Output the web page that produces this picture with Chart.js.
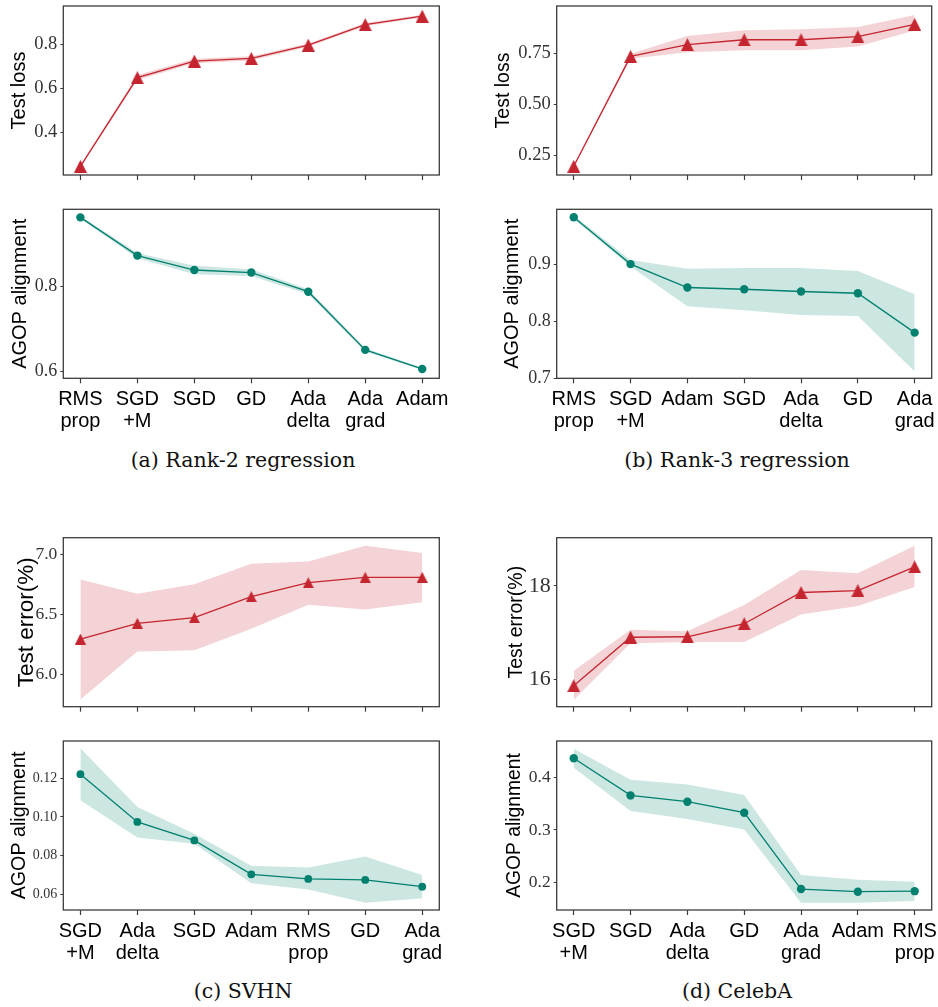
<!DOCTYPE html>
<html><head><meta charset="utf-8">
<script src="https://cdn.jsdelivr.net/npm/chart.js@4.4.1/dist/chart.umd.min.js"></script>
<style>
html,body{margin:0;padding:0;background:#fff;}
body{width:938px;height:1007px;position:relative;overflow:hidden;}
canvas{position:absolute;}
.cap{position:absolute;font-family:'DejaVu Serif',serif;font-size:20.5px;color:#111;white-space:nowrap;transform:translate(-50%,-50%);}
</style></head><body>
<div class="cap" style="left:243px;top:460px">(a) Rank-2 regression</div>
<div class="cap" style="left:737px;top:460px">(b) Rank-3 regression</div>
<div class="cap" style="left:243px;top:991px">(c) SVHN</div>
<div class="cap" style="left:737px;top:991px">(d) CelebA</div>
<script>
// ---------- data ----------
const catsA = [['RMS','prop'],['SGD','+M'],'SGD','GD',['Ada','delta'],['Ada','grad'],'Adam'];
const catsB = [['RMS','prop'],['SGD','+M'],'Adam','SGD',['Ada','delta'],'GD',['Ada','grad']];
const catsC = [['SGD','+M'],['Ada','delta'],'SGD','Adam',['RMS','prop'],'GD',['Ada','grad']];
const catsD = [['SGD','+M'],'SGD',['Ada','delta'],'GD',['Ada','grad'],'Adam',['RMS','prop']];

const lossA      = [0.247, 0.648, 0.723, 0.735, 0.795, 0.888, 0.926];
const lossAUpper = [0.252, 0.660, 0.734, 0.745, 0.802, 0.895, 0.932];
const lossALower = [0.242, 0.638, 0.713, 0.726, 0.788, 0.881, 0.920];
const alignA      = [0.963, 0.873, 0.839, 0.833, 0.788, 0.651, 0.606];
const alignAUpper = [0.966, 0.879, 0.849, 0.841, 0.794, 0.655, 0.609];
const alignALower = [0.960, 0.867, 0.829, 0.825, 0.782, 0.647, 0.603];

const lossB      = [0.195, 0.735, 0.793, 0.817, 0.817, 0.832, 0.893];
const lossBUpper = [0.200, 0.748, 0.836, 0.864, 0.869, 0.880, 0.939];
const lossBLower = [0.190, 0.724, 0.755, 0.766, 0.766, 0.784, 0.862];
const alignB      = [0.982, 0.900, 0.859, 0.856, 0.852, 0.849, 0.780];
const alignBUpper = [0.985, 0.907, 0.892, 0.893, 0.893, 0.888, 0.847];
const alignBLower = [0.979, 0.896, 0.826, 0.819, 0.811, 0.809, 0.712];

const errC      = [6.294, 6.425, 6.472, 6.647, 6.763, 6.808, 6.808];
const errCUpper = [6.79, 6.67, 6.75, 6.92, 6.94, 7.07, 7.01];
const errCLower = [5.79, 6.19, 6.20, 6.38, 6.58, 6.54, 6.60];
const alignC      = [0.1222, 0.0974, 0.0878, 0.0702, 0.0678, 0.0673, 0.0638];
const alignCUpper = [0.1356, 0.1052, 0.0913, 0.0746, 0.0738, 0.0795, 0.0699];
const alignCLower = [0.1086, 0.0893, 0.0861, 0.0656, 0.0624, 0.0555, 0.0578];

const errD      = [15.86, 16.90, 16.91, 17.19, 17.86, 17.90, 18.41];
const errDUpper = [16.18, 17.06, 17.03, 17.59, 18.34, 18.27, 18.86];
const errDLower = [15.56, 16.77, 16.80, 16.80, 17.39, 17.57, 17.98];
const alignD      = [0.437, 0.366, 0.354, 0.333, 0.187, 0.182, 0.183];
const alignDUpper = [0.455, 0.396, 0.387, 0.367, 0.214, 0.205, 0.201];
const alignDLower = [0.419, 0.336, 0.321, 0.301, 0.161, 0.161, 0.164];

// tick values and labels
const ticksLossA = [0.4, 0.6, 0.8],        tickLabelsLossA = ['0.4','0.6','0.8'];
const ticksAlignA = [0.6, 0.8],            tickLabelsAlignA = ['0.6','0.8'];
const ticksLossB = [0.25, 0.5, 0.75],      tickLabelsLossB = ['0.25','0.50','0.75'];
const ticksAlignB = [0.7, 0.8, 0.9],       tickLabelsAlignB = ['0.7','0.8','0.9'];
const ticksErrC = [6.0, 6.5, 7.0],         tickLabelsErrC = ['6.0','6.5','7.0'];
const ticksAlignC = [0.06, 0.08, 0.10, 0.12], tickLabelsAlignC = ['0.06','0.08','0.10','0.12'];
const ticksErrD = [16, 18],                tickLabelsErrD = ['16','18'];
const ticksAlignD = [0.2, 0.3, 0.4],       tickLabelsAlignD = ['0.2','0.3','0.4'];

// ---------- style ----------
const SANS = "'Liberation Sans', Arial, Helvetica, sans-serif";
const SERIF = "'Liberation Serif', 'Times New Roman', serif";
const SPINE = '#3c3c3c';
const RED = '#C5252F', RED_BAND = 'rgba(197,37,47,0.2)';
const TEAL = '#00806F', TEAL_BAND = 'rgba(0,128,111,0.2)';

function triangle(size, color) {
  const c = document.createElement('canvas');
  c.width = size; c.height = size;
  const g = c.getContext('2d');
  g.fillStyle = color;
  g.beginPath();
  g.moveTo(size / 2, 0);
  g.lineTo(size, size);
  g.lineTo(0, size);
  g.closePath();
  g.fill();
  return c;
}

const boxPlugin = {
  id: 'box',
  afterDatasetsDraw(chart) {
    const {ctx, chartArea: a} = chart;
    ctx.save();
    ctx.strokeStyle = SPINE; ctx.lineWidth = 1.3;
    ctx.strokeRect(a.left, a.top, a.right - a.left, a.bottom - a.top);
    ctx.restore();
  }
};

function panel(p) {
  const cv = document.createElement('canvas');
  cv.width = p.w; cv.height = p.h;
  cv.style.left = p.x + 'px'; cv.style.top = p.y + 'px';
  document.body.appendChild(cv);
  const pts = arr => arr.map((v, i) => ({x: i, y: v}));
  new Chart(cv, {
    type: 'line',
    data: {datasets: [
      {data: pts(p.values), borderColor: p.color, borderWidth: 1.3, pointStyle: p.marker, pointRadius: p.r,
       pointBackgroundColor: p.color, pointBorderColor: p.color, pointBorderWidth: 0, fill: false, clip: false, order: 0},
      {data: pts(p.upper), borderWidth: 0, pointRadius: 0, fill: '+1', backgroundColor: p.band, order: 1},
      {data: pts(p.lower), borderWidth: 0, pointRadius: 0, fill: false, order: 2}
    ]},
    options: {
      responsive: false, animation: false, devicePixelRatio: 1,
      layout: {padding: {left: 0, top: p.plotTop - p.y, right: p.x + p.w - p.plotRight, bottom: 0}},
      plugins: {legend: {display: false}, tooltip: {enabled: false}},
      scales: {
        x: {
          type: 'linear', min: -0.3, max: 6.3, bounds: 'data',
          afterBuildTicks: s => { s.ticks = p.cats.map((c, i) => ({value: i})); },
          afterFit: s => { s.height = p.y + p.h - p.plotBottom; s.paddingLeft = 0; s.paddingRight = 0; },
          grid: {display: true, drawOnChartArea: false, drawTicks: true, tickLength: 5, tickWidth: 1.2, tickColor: SPINE},
          border: {display: false},
          ticks: {autoSkip: false, maxRotation: 0, minRotation: 0, padding: 5, color: '#000',
                  font: {family: SANS, size: 20, lineHeight: 1.1},
                  callback: (v, i) => p.showLabels ? p.cats[i] : ''}
        },
        y: {
          min: p.yMin, max: p.yMax, bounds: 'data',
          afterBuildTicks: s => { s.ticks = p.yTicks.map(v => ({value: v})); },
          afterFit: s => { s.width = p.plotLeft - p.x; s.paddingTop = 0; s.paddingBottom = 0; },
          grid: {display: true, drawOnChartArea: false, drawTicks: true, tickLength: 3, tickWidth: 1, tickColor: SPINE},
          border: {display: false},
          ticks: {padding: 3, color: '#333', font: {family: SERIF, size: p.tickSize}, callback: (v, i) => p.yTickLabels[i]},
          title: {display: true, text: p.yTitle, color: '#000', font: {family: SANS, size: p.titleSize, lineHeight: 1},
                  padding: {top: p.titleX - p.titleSize / 2, bottom: 0}}
        }
      }
    },
    plugins: [boxPlugin]
  });
}

const triRed = triangle(13, RED), triRedS = triangle(11, RED);

// column / row geometry
const L = {x: 0, w: 470, plotLeft: 63.3, plotRight: 439.3};
const R = {x: 470, w: 468, plotLeft: 556.7, plotRight: 931.7};
const row1 = {y: 0, h: 190, plotTop: 5, plotBottom: 175};
const row2 = {y: 190, h: 250, plotTop: 209.3, plotBottom: 378.3};
const row3 = {y: 520, h: 200, plotTop: 537.7, plotBottom: 706.7};
const row4 = {y: 720, h: 250, plotTop: 741, plotBottom: 910};

panel({...L, ...row1, cats: catsA, showLabels: false, values: lossA, upper: lossAUpper, lower: lossALower,
  yMin: 0.208, yMax: 0.972, yTicks: ticksLossA, yTickLabels: tickLabelsLossA, yTitle: 'Test loss', titleX: 19, titleSize: 20,
  tickSize: 18.5, color: RED, band: RED_BAND, marker: triRed, r: 6});
panel({...L, ...row2, cats: catsA, showLabels: true, values: alignA, upper: alignAUpper, lower: alignALower,
  yMin: 0.584, yMax: 0.982, yTicks: ticksAlignA, yTickLabels: tickLabelsAlignA, yTitle: 'AGOP alignment', titleX: 20, titleSize: 20,
  tickSize: 18, color: TEAL, band: TEAL_BAND, marker: 'circle', r: 4.2});
panel({...R, ...row1, cats: catsB, showLabels: false, values: lossB, upper: lossBUpper, lower: lossBLower,
  yMin: 0.152, yMax: 0.983, yTicks: ticksLossB, yTickLabels: tickLabelsLossB, yTitle: 'Test loss', titleX: 34, titleSize: 19.5,
  tickSize: 18.5, color: RED, band: RED_BAND, marker: triRed, r: 6});
panel({...R, ...row2, cats: catsB, showLabels: true, values: alignB, upper: alignBUpper, lower: alignBLower,
  yMin: 0.70, yMax: 0.996, yTicks: ticksAlignB, yTickLabels: tickLabelsAlignB, yTitle: 'AGOP alignment', titleX: 42.5, titleSize: 20,
  tickSize: 18, color: TEAL, band: TEAL_BAND, marker: 'circle', r: 4.2});
panel({...L, ...row3, cats: catsC, showLabels: false, values: errC, upper: errCUpper, lower: errCLower,
  yMin: 5.73, yMax: 7.138, yTicks: ticksErrC, yTickLabels: tickLabelsErrC, yTitle: 'Test error(%)', titleX: 26.7, titleSize: 22.5,
  tickSize: 17.5, color: RED, band: RED_BAND, marker: triRedS, r: 6});
panel({...L, ...row4, cats: catsC, showLabels: true, values: alignC, upper: alignCUpper, lower: alignCLower,
  yMin: 0.0517, yMax: 0.1394, yTicks: ticksAlignC, yTickLabels: tickLabelsAlignC, yTitle: 'AGOP alignment', titleX: 19.2, titleSize: 19.7,
  tickSize: 14, color: TEAL, band: TEAL_BAND, marker: 'circle', r: 3.9});
panel({...R, ...row3, cats: catsD, showLabels: false, values: errD, upper: errDUpper, lower: errDLower,
  yMin: 15.41, yMax: 19.035, yTicks: ticksErrD, yTickLabels: tickLabelsErrD, yTitle: 'Test error(%)', titleX: 46.7, titleSize: 19.5,
  tickSize: 22, color: RED, band: RED_BAND, marker: triRed, r: 6});
panel({...R, ...row4, cats: catsD, showLabels: true, values: alignD, upper: alignDUpper, lower: alignDLower,
  yMin: 0.147, yMax: 0.470, yTicks: ticksAlignD, yTickLabels: tickLabelsAlignD, yTitle: 'AGOP alignment', titleX: 44.7, titleSize: 19.3,
  tickSize: 17.5, color: TEAL, band: TEAL_BAND, marker: 'circle', r: 4.2});
</script>
</body></html>
